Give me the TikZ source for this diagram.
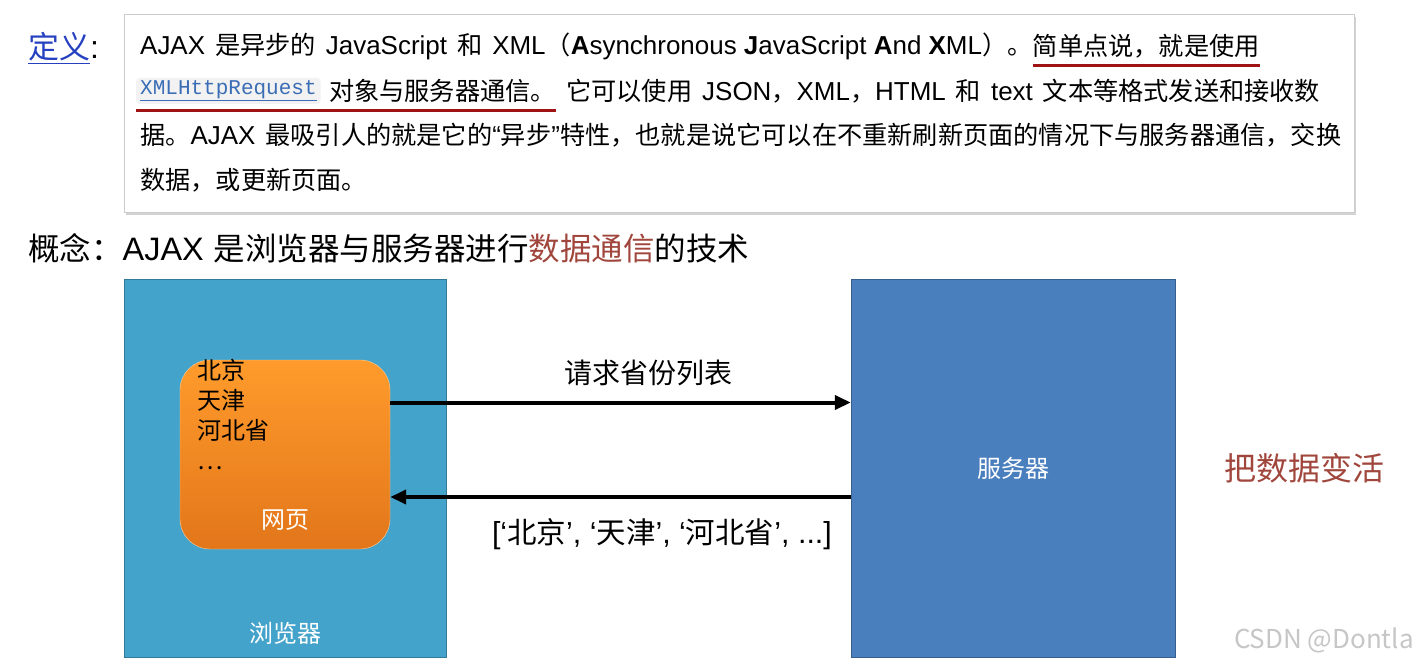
\documentclass[tikz,border=0pt]{standalone}
\usepackage{fontspec}
\setmainfont{Noto Sans CJK SC}
\newfontfamily\latinfont[Scale=1.03]{Liberation Sans}
\newfontfamily\codefont{Liberation Mono}
\newcommand\lat[1]{{\latinfont #1}}
\newcommand\gap{\hspace{10pt}}
\usepackage{xcolor}
\usepackage{tikz}
\usetikzlibrary{arrows.meta, positioning, calc, shadows}
\definecolor{browserblue}{HTML}{44A3CB}
\definecolor{serverblue}{HTML}{4A7FBE}
\definecolor{pagetop}{HTML}{FF9B2C}
\definecolor{pagebottom}{HTML}{E2761A}
\definecolor{hotred}{HTML}{A0463C}
\definecolor{markred}{HTML}{9E1414}
\definecolor{linkblue}{HTML}{2540C0}
\definecolor{codeblue}{HTML}{3A6DB5}

\begin{document}
\begin{tikzpicture}[
    x=1pt, y=-1pt,
    deftext/.style={anchor=west, inner sep=0pt, font=\fontsize{25.2}{28}\selectfont},
    defbox/.style={rectangle, draw=gray!40, fill=white, minimum width=1230pt, minimum height=198pt, drop shadow={opacity=0.35, shadow xshift=1.5pt, shadow yshift=-3pt}},
    codebox/.style={rectangle, rounded corners=4pt, fill=gray!10, inner xsep=4pt, inner ysep=3pt, font=\codefont\fontsize{21}{24}\selectfont, text=codeblue},
    marker/.style={line width=3pt, markred},
    machine/.style={rectangle, minimum width=322pt, minimum height=378pt, font=\fontsize{24}{28}\selectfont, text=white},
    page/.style={rectangle, rounded corners=30pt, draw=orange!40, minimum width=210pt, minimum height=189pt, top color=pagetop, bottom color=pagebottom},
    boxlabel/.style={inner sep=0pt, font=\fontsize{24}{28}\selectfont, text=white},
    flowlabel/.style={inner sep=0pt, font=\fontsize{28}{30}\selectfont},
    flow/.style={line width=4pt, -{Triangle[length=16pt, width=14pt]}}
]
\useasboundingbox (0,0) rectangle (1418,669);

% definition
\node[inner sep=0pt, anchor=west, font=\fontsize{31}{34}\selectfont] (deftitle) at (28,48) {\textcolor{linkblue}{\underline{定义}}\lat{:}};
\node[defbox] (def) at (739,113) {};
\node[deftext] (defA) at (140,46) {\lat{AJAX}\gap 是异步的\gap\lat{JavaScript}\gap 和\gap\lat{XML}（\lat{\textbf{A}synchronous \textbf{J}avaScript \textbf{A}nd \textbf{X}ML}）。};
\node[deftext, right=0pt of defA] (defB) {简单点说，就是使用};
\node[codebox, anchor=west] (xhr) at (136,91) {\underline{XMLHttpRequest}};
\node[deftext, right=8pt of xhr] (defC) {对象与服务器通信。};
\node[deftext, right=10pt of defC] (defD) {它可以使用\gap\lat{JSON}，\lat{XML}，\lat{HTML}\gap 和\gap\lat{text}\gap 文本等格式发送和接收数};
\node[deftext] (defE) at (140,135) {据。\lat{AJAX}\gap 最吸引人的就是它的\lat{“}异步\lat{”}特性，也就是说它可以在不重新刷新页面的情况下与服务器通信，交换};
\node[deftext] (defF) at (140,180) {数据，或更新页面。};
\draw[marker] ([yshift=-7pt]defB.south west) -- ([yshift=-7pt]defB.south east);
\draw[marker] ([yshift=-6pt]xhr.south west) -- ([yshift=-6pt]xhr.south west -| defC.east);

% concept
\node[inner sep=0pt, anchor=west, font=\fontsize{31.5}{34}\selectfont] (concept) at (28,248) {概念：\lat{AJAX}\gap 是浏览器与服务器进行\textcolor{hotred}{数据通信}的技术};

% browser and page
\node[machine, fill=browserblue, draw=browserblue!75!black] (browser) at (285,468) {};
\node[boxlabel, above=13pt of browser.south] (browserlabel) {浏览器};
\node[page] (page) at (285,454.5) {};
\node[inner sep=0pt, anchor=north west, align=left, font=\fontsize{24}{30}\selectfont] (pagelist) at (197,359) {北京\\天津\\河北省\\…};
\node[boxlabel, above=19pt of page.south] (pagelabel) {网页};

% server
\node[machine, fill=serverblue, draw=serverblue!75!black, minimum width=324pt] (server) at (1013,468) {服务器};
\node[right=49pt of server, inner sep=0pt, font=\fontsize{32}{36}\selectfont, text=hotred] (slogan) {把数据变活};

% requests
\draw[flow] ([yshift=52pt]page.east) -- ([yshift=52pt]page.east -| server.west) node[flowlabel, pos=0.56, above=15pt] (ask) {请求省份列表};
\draw[flow] ([yshift=-42.5pt]page.east -| server.west) -- ([yshift=-42.5pt]page.east) node[flowlabel, pos=0.41, below=19pt, font=\fontsize{29.5}{32}\selectfont] (reply) {\lat{[‘}北京\lat{’, ‘}天津\lat{’, ‘}河北省\lat{’, ...]}};

\node[inner sep=0pt, anchor=east, font=\fontsize{26}{30}\selectfont, text=gray!45] (mark) at (1414,640) {CSDN @Dontla};
\end{tikzpicture}
\end{document}
